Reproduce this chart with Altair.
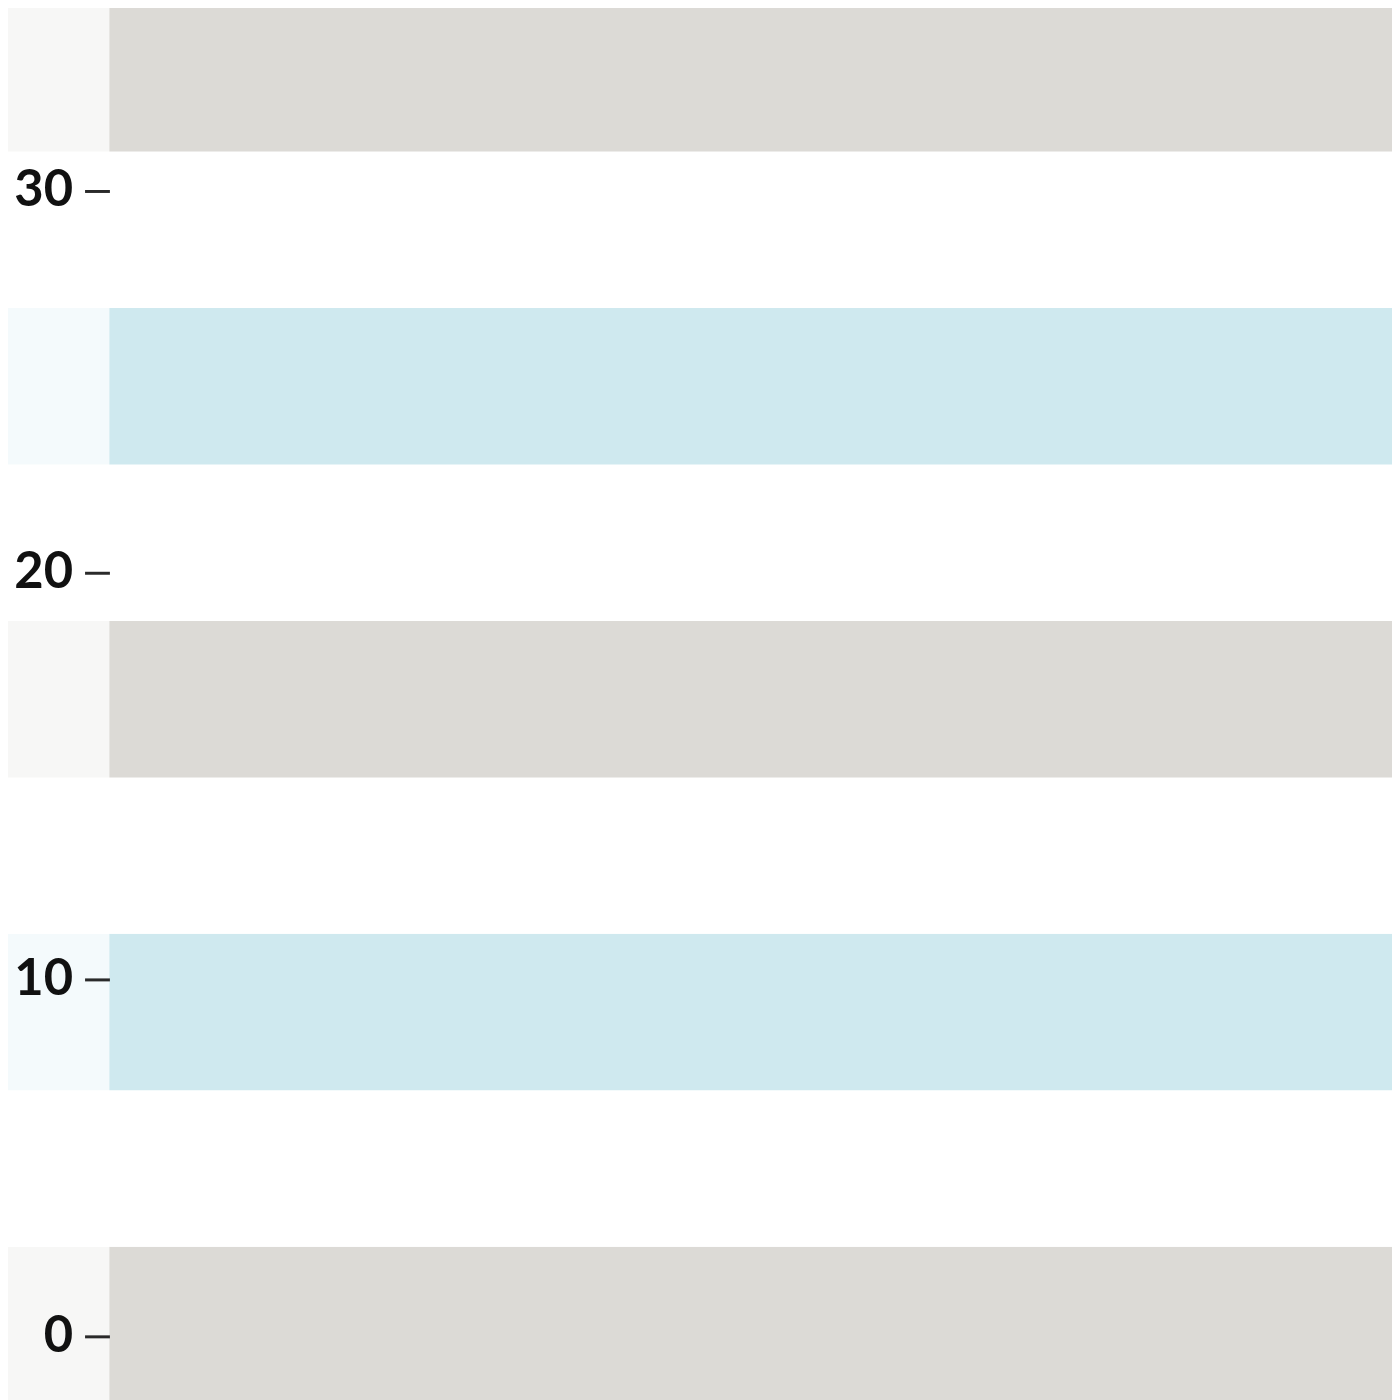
import altair as alt
import pandas as pd

# Background bands (band index units, bottom to top) and their fills
band_lo = [-1, 0, 1, 2, 3, 4, 5, 6, 7]
band_hi = [0, 1, 2, 3, 4, 5, 6, 7, 8]
band_fill = ["#dcdad6", "#ffffff", "#cfe9ef", "#ffffff", "#dcdad6",
             "#ffffff", "#cfe9ef", "#ffffff", "#dcdad6"]

# Axis tick values
tick_values = [0, 10, 20, 30]

W, H = 1290, 1392

bands = pd.DataFrame({"lo": band_lo, "hi": band_hi, "fill": band_fill})
ticks = pd.DataFrame({"v": tick_values})

band_layer = alt.Chart(bands).mark_rect().encode(
    x=alt.value(-102),
    x2=alt.value(W + 20),
    y=alt.Y("lo:Q", axis=None,
            scale=alt.Scale(domain=[-1, 8], range=[1399.4, -17.2], nice=False, zero=False)),
    y2="hi:Q",
    color=alt.Color("fill:N", scale=None),
)

overlay = alt.Chart(pd.DataFrame({"a": [0]})).mark_rect(color="white", opacity=0.77).encode(
    x=alt.value(-102),
    x2=alt.value(0),
    y=alt.value(-20),
    y2=alt.value(H + 10),
)

axis_layer = alt.Chart(ticks).mark_point(opacity=0).encode(
    y=alt.Y("v:Q", title=None,
            scale=alt.Scale(domain=[0, 10, 20, 30], range=[1332, 973, 564, 180],
                            nice=False, zero=False),
            axis=alt.Axis(orient="left", values=tick_values, domain=False, grid=False,
                          tickSize=25, tickWidth=3, tickColor="#2a2a2a",
                          labelFont="Lato", labelFontSize=51, labelFontWeight=700,
                          labelColor="#111111", labelPadding=12, zindex=1,
                          labelBound=False, labelOverlap=False)),
    x=alt.value(10),
)

chart = alt.layer(band_layer, overlay, axis_layer).resolve_scale(y="independent").properties(
    width=W, height=H,
    autosize=alt.AutoSizeParams(type="none"),
    padding={"left": 102, "top": 0, "right": 0, "bottom": 0},
    background="white",
).configure_view(stroke=None)

chart.save("out.html", embed_options={"renderer": "svg", "actions": False})
